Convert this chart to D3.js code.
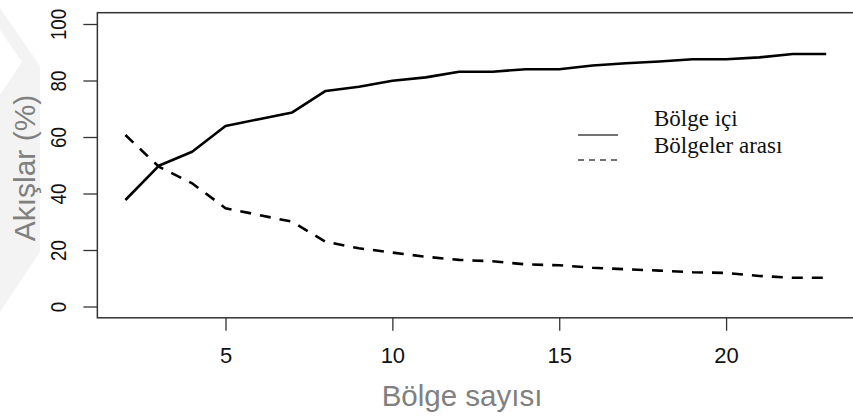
<!DOCTYPE html>
<html>
<head>
<meta charset="utf-8">
<script src="https://cdn.jsdelivr.net/npm/d3@7"></script>
<style>
  html, body { margin: 0; padding: 0; background: #fff; }
  svg { display: block; }
</style>
</head>
<body>
<svg id="chart" width="853" height="417"></svg>
<script>
// Number of regions (x) and share of flows (%) for each flow type
const regionCounts = [2, 3, 4, 5, 6, 7, 8, 9, 10, 11, 12, 13, 14, 15, 16, 17, 18, 19, 20, 21, 22, 23];
const withinRegion = [37.7, 49.8, 54.8, 63.9, 66.3, 68.7, 76.3, 77.8, 79.9, 81.1, 83.1, 83.1, 84.0, 84.0, 85.3, 86.1, 86.7, 87.5, 87.5, 88.2, 89.4, 89.4];
const betweenRegions = [60.7, 49.5, 43.6, 34.8, 32.4, 30.0, 22.9, 20.6, 19.1, 17.6, 16.5, 16.0, 14.9, 14.6, 13.7, 13.2, 12.7, 12.1, 11.9, 10.8, 10.2, 10.2];
const seriesNames = ["Bölge içi", "Bölgeler arası"];
const xTicks = [5, 10, 15, 20];
const yTicks = [0, 20, 40, 60, 80, 100];
const xTitle = "Bölge sayısı";
const yTitle = "Akışlar (%)";

const svg = d3.select("#chart");

// faint chevron mark in the left margin
svg.append("polygon")
  .attr("points", "0,8 40,66 40,252 0,312 0,95 22,62 0,30")
  .attr("fill", "#f3f3f3");

const x = d3.scaleLinear().domain([2, 23]).range([125.4, 826.2]);
const y = d3.scaleLinear().domain([0, 100]).range([306.5, 24]);

// plot frame spans the padded data range
const fx0 = x(1.16), fx1 = x(23.84), fy0 = y(104), fy1 = y(-4);
svg.append("rect")
  .attr("x", fx0).attr("y", fy0)
  .attr("width", fx1 - fx0).attr("height", fy1 - fy0)
  .attr("fill", "none").attr("stroke", "#333").attr("stroke-width", 1.5);

// x axis
const xAxis = svg.append("g")
  .attr("transform", `translate(0,${fy1})`)
  .call(d3.axisBottom(x).tickValues(xTicks).tickSize(13).tickPadding(17).tickFormat(d3.format("d")));
xAxis.select(".domain").remove();
xAxis.selectAll(".tick line").attr("stroke", "#333").attr("stroke-width", 1.3);
xAxis.selectAll(".tick text")
  .attr("font-family", "'Liberation Sans', Arial, sans-serif")
  .attr("font-size", 22).attr("fill", "#111");

// y axis with labels rotated along the axis
const yAxis = svg.append("g")
  .attr("transform", `translate(${fx0},0)`)
  .call(d3.axisLeft(y).tickValues(yTicks).tickSize(14).tickFormat(d3.format("d")));
yAxis.select(".domain").remove();
yAxis.selectAll(".tick line").attr("stroke", "#333").attr("stroke-width", 1.3);
yAxis.selectAll(".tick text").remove();
yAxis.selectAll(".tick").append("text")
  .attr("transform", `translate(${66 - fx0},0) rotate(-90) scale(0.85,1)`)
  .attr("text-anchor", "middle")
  .attr("font-family", "'Liberation Sans', Arial, sans-serif")
  .attr("font-size", 22).attr("fill", "#111")
  .text(d => d);

// axis titles
svg.append("text")
  .attr("x", 462).attr("y", 406)
  .attr("text-anchor", "middle")
  .attr("font-family", "'Liberation Sans', Arial, sans-serif")
  .attr("font-size", 29.5).attr("fill", "#808080")
  .text(xTitle);
svg.append("text")
  .attr("transform", "translate(35,168) rotate(-90)")
  .attr("text-anchor", "middle")
  .attr("font-family", "'Liberation Sans', Arial, sans-serif")
  .attr("font-size", 30).attr("fill", "#808080")
  .text(yTitle);

// series lines
const line = d3.line().x((d, i) => x(regionCounts[i])).y(d => y(d));
svg.append("path")
  .datum(withinRegion)
  .attr("d", line)
  .attr("fill", "none").attr("stroke", "#000").attr("stroke-width", 2.6)
  .attr("stroke-linejoin", "round");
svg.append("path")
  .datum(betweenRegions)
  .attr("d", line)
  .attr("fill", "none").attr("stroke", "#000").attr("stroke-width", 2.6)
  .attr("stroke-dasharray", "11,9");

// legend
const legend = svg.append("g");
const dashes = [null, "6,5"];
const lineY = [135, 160];
const textY = [126, 153];
seriesNames.forEach((name, i) => {
  legend.append("line")
    .attr("x1", 578).attr("x2", 618)
    .attr("y1", lineY[i]).attr("y2", lineY[i])
    .attr("stroke", "#444").attr("stroke-width", 1.4)
    .attr("stroke-dasharray", dashes[i]);
  legend.append("text")
    .attr("x", 654).attr("y", textY[i])
    .attr("font-family", "'Liberation Serif', 'Times New Roman', serif")
    .attr("font-size", 23).attr("fill", "#111")
    .text(name);
});
</script>
</body>
</html>
